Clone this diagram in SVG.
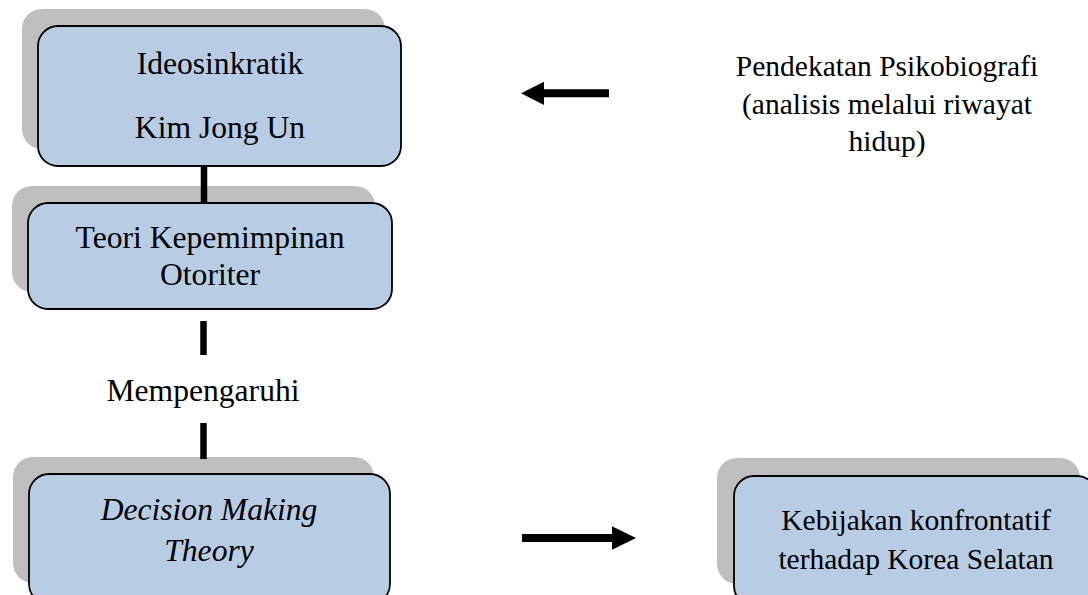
<svg xmlns="http://www.w3.org/2000/svg" width="1088" height="595" viewBox="0 0 1088 595">
<style>
.shadow{fill:#BFBFBF;}
.box{fill:#B8CCE4;stroke:#000;stroke-width:1.8;}
.t{font-family:"Liberation Serif","Times New Roman",serif;font-size:31.6px;fill:#000;text-anchor:middle;}
.tr{font-family:"Liberation Serif","Times New Roman",serif;font-size:29.5px;fill:#000;text-anchor:middle;}
.conn{stroke:#000;stroke-width:6.5;fill:none;}
.arrow{fill:#000;}
</style>
<rect width="1088" height="595" fill="#fff"/>
<g id="node-ideosinkratik">
<rect class="shadow" x="22" y="9" width="363" height="140" rx="20"/>
<rect class="box" x="38" y="26" width="363" height="140" rx="20"/>
<text class="t" x="220" y="74">Ideosinkratik</text>
<text class="t" x="220" y="138">Kim Jong Un</text>
</g>
<g id="node-teori">
<rect class="shadow" x="12" y="186" width="363" height="106" rx="20"/>
</g>
<g id="node-decision">
<rect class="shadow" x="13" y="457" width="361" height="126" rx="20"/>
</g>
<g id="node-kebijakan">
<rect class="shadow" x="717" y="458" width="363" height="126" rx="20"/>
</g>
<g id="connectors">
<line class="conn" x1="204" y1="166" x2="204" y2="204"/>
<line class="conn" x1="203.5" y1="321" x2="203.5" y2="355"/>
<line class="conn" x1="203.5" y1="423" x2="203.5" y2="459"/>
<polygon class="arrow" points="521,93.3 544,81.7 544,89.3 609,89.3 609,97.3 544,97.3 544,105"/>
<polygon class="arrow" points="522,534 612,534 612,526.3 636,538 612,549.7 612,542 522,542"/>
</g>
<g id="node-teori-front">
<rect class="box" x="28" y="203" width="364" height="106" rx="20"/>
<text class="t" x="210" y="248">Teori Kepemimpinan</text>
<text class="t" x="210" y="285">Otoriter</text>
</g>
<g id="label-mempengaruhi">
<text class="t" x="203" y="401">Mempengaruhi</text>
</g>
<g id="node-decision-front">
<rect class="box" x="29" y="474" width="361" height="130" rx="20"/>
<text class="t" x="209" y="520" font-style="italic">Decision Making</text>
<text class="t" x="209" y="561" font-style="italic">Theory</text>
</g>
<g id="node-kebijakan-front">
<rect class="box" x="734" y="476" width="363" height="130" rx="20"/>
<text class="tr" x="916" y="530">Kebijakan konfrontatif</text>
<text class="tr" x="916" y="569">terhadap Korea Selatan</text>
</g>
<g id="label-psikobiografi">
<text class="tr" x="887" y="76">Pendekatan Psikobiografi</text>
<text class="tr" x="887" y="114">(analisis melalui riwayat</text>
<text class="tr" x="887" y="151">hidup)</text>
</g>
</svg>
